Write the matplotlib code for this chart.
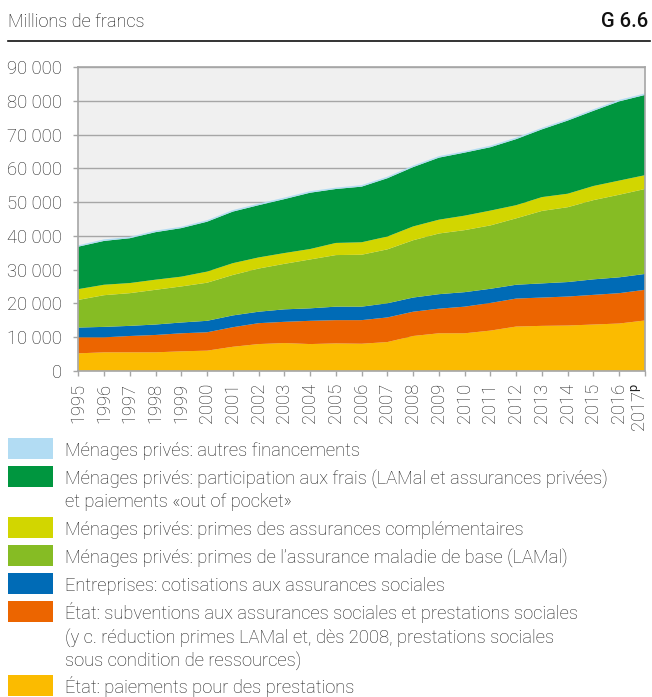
import matplotlib
matplotlib.use("Agg")
import matplotlib.pyplot as plt
import matplotlib.transforms as mtransforms
from matplotlib.patches import Rectangle

plt.rcParams['font.family'] = ['Roboto', 'DejaVu Sans']
plt.rcParams['mathtext.fontset'] = 'custom'
plt.rcParams['mathtext.rm'] = 'Roboto'

# données (millions de francs)
years = list(range(1995, 2018))
year_labels = [str(y) for y in range(1995, 2017)] + ['2017$^{\\mathrm{p}}$']

etat_prestations = [5150, 5450, 5450, 5450, 5750, 5950, 7100, 7900, 8200, 7900, 8100, 8000,
                    8500, 10300, 11100, 11100, 11900, 13100, 13300, 13400, 13700, 14000, 14900]
etat_subventions = [4750, 4450, 4850, 5150, 5350, 5450, 5800, 6200, 6300, 6900, 6900, 7000,
                    7300, 7200, 7300, 7900, 8200, 8300, 8400, 8600, 8800, 9000, 9100]
entreprises = [2900, 3100, 3000, 3100, 3200, 3400, 3500, 3400, 3700, 3700, 4000, 4000,
               4200, 4200, 4300, 4300, 4200, 4100, 4200, 4300, 4600, 4700, 4700]
primes_lamal = [8200, 9400, 9700, 10300, 10700, 11300, 12000, 12800, 13500, 14500, 15300, 15400,
                16000, 17000, 18000, 18400, 18800, 19700, 21500, 22200, 23500, 24500, 25200]
primes_compl = [3200, 3100, 3000, 3000, 2900, 3300, 3500, 3300, 3200, 3100, 3600, 3700,
                3800, 4100, 4100, 4300, 4400, 3900, 4100, 4000, 4200, 4200, 4100]
participation = [12600, 13000, 13300, 14100, 14400, 14800, 15300, 15500, 16000, 16700, 16000, 16500,
                 17300, 17600, 18400, 18700, 18800, 19600, 20100, 21700, 22300, 23500, 23800]
autres = [400, 450, 400, 450, 400, 450, 450, 450, 450, 450, 400, 450,
          450, 450, 450, 400, 450, 450, 450, 450, 450, 450, 450]

series = [etat_prestations, etat_subventions, entreprises, primes_lamal, primes_compl, participation, autres]
colors = ['#fbbb00', '#ec6500', '#006bb6', '#86bc24', '#d2d600', '#00963f', '#b2dcf3']

yticks = list(range(0, 90001, 10000))
ytick_labels = ['0', '10 000', '20 000', '30 000', '40 000', '50 000', '60 000', '70 000', '80 000', '90 000']

legend_labels = [
    'Ménages privés: autres financements',
    'Ménages privés: participation aux frais (LAMal et assurances privées)\net paiements «out of pocket»',
    'Ménages privés: primes des assurances complémentaires',
    'Ménages privés: primes de l’assurance maladie de base (LAMal)',
    'Entreprises: cotisations aux assurances sociales',
    'État: subventions aux assurances sociales et prestations sociales\n(y c. réduction primes LAMal et, dès 2008, prestations sociales\nsous condition de ressources)',
    'État: paiements pour des prestations',
]
legend_colors = ['#b2dcf3', '#00963f', '#d2d600', '#86bc24', '#006bb6', '#ec6500', '#fbbb00']

W, H = 652, 697
fig = plt.figure(figsize=(W / 100, H / 100), dpi=100)
ax = fig.add_axes([78.3 / W, 1 - 370.7 / H, (645 - 78.3) / W, (370.7 - 67.3) / H])

ax.set_facecolor('#f0f0f0')
ax.stackplot(years, *series, colors=colors, linewidth=0, zorder=2)
ax.set_xlim(1995, 2017)
ax.set_ylim(0, 90000)
ax.set_yticks(yticks)
ax.set_yticklabels(ytick_labels)
ax.set_xticks(years)
ax.set_xticklabels(year_labels, rotation=90, va='top', ha='center')
ax.grid(axis='y', color='#a6a6a6', linewidth=1.0, zorder=1)
ax.set_axisbelow(True)
for s in ax.spines.values():
    s.set_color('#a6a6a6')
    s.set_linewidth(1.2)
ax.tick_params(axis='both', colors='#a6a6a6', labelcolor='#222222', labelsize=13.2,
               length=3.5, width=1.0)
ax.tick_params(axis='y', pad=8)
ax.tick_params(axis='x', pad=5)
for lab in ax.get_xticklabels() + ax.get_yticklabels():
    lab.set_fontweight('light')
# dernier label un peu décalé à gauche pour rester dans l'image
last = ax.get_xticklabels()[-1]
last.set_transform(last.get_transform() + mtransforms.ScaledTranslation(-5 / 100, 0, fig.dpi_scale_trans))

# en-tête
fig.text(8 / W, 1 - 27 / H, 'Millions de francs', fontsize=13.1, fontweight='light',
         color='#111111', ha='left', va='baseline')
fig.text(648 / W, 1 - 27 / H, 'G 6.6', fontsize=14.5, fontweight='medium',
         color='#111111', ha='right', va='baseline')
fig.add_artist(plt.Line2D([8 / W, 650 / W], [1 - 41 / H, 1 - 41 / H], color='#111111',
                          linewidth=1.2, transform=fig.transFigure))

# légende
sw_tops = [438.3, 466, 517.3, 545, 573.3, 601.3, 675]
for top, lab, col in zip(sw_tops, legend_labels, legend_colors):
    fig.add_artist(Rectangle((8.3 / W, 1 - (top + 20.7) / H), 45 / W, 20.7 / H,
                             facecolor=col, edgecolor='none', transform=fig.transFigure))
    for i, line in enumerate(lab.split('\n')):
        base = top + 18 + i * 23
        fig.text(65 / W, 1 - base / H, line, fontsize=13.2, fontweight='light',
                 color='#1e1e1e', ha='left', va='baseline')

fig.savefig('out.png', dpi=100)
